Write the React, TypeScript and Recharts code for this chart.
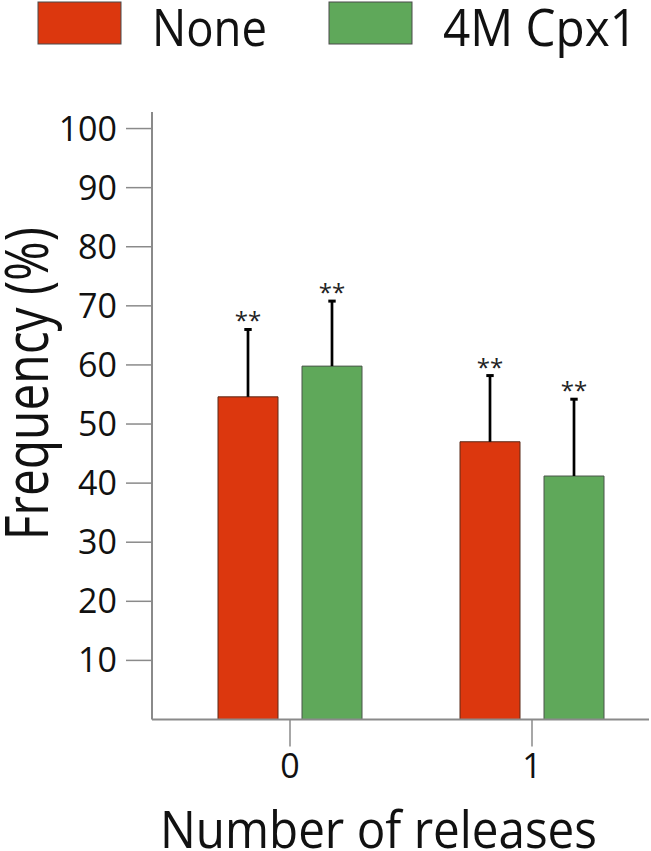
import React from "react";
import {
  BarChart,
  Bar,
  XAxis,
  YAxis,
  ErrorBar,
  Legend,
  LabelList,
} from "recharts";

const releases = ["0", "1"];
const noneFreq = [54.6, 47.0];
const cpxFreq = [59.8, 41.2];
const noneSem = [11.4, 11.2];
const cpxSem = [11.0, 13.0];
const noneSig = ["**", "**"];
const cpxSig = ["**", "**"];
const yTicks = [10, 20, 30, 40, 50, 60, 70, 80, 90, 100];
const seriesNames = ["None", "4M Cpx1"];

const FONT = "'Open Sans', 'Noto Sans', sans-serif";
const AXIS_GREY = "#8a8a8a";

const data = releases.map((r, i) => ({
  release: r,
  none: noneFreq[i],
  cpx: cpxFreq[i],
  noneErr: [0, noneSem[i]],
  cpxErr: [0, cpxSem[i]],
}));

// legend text widths, squeezed to the reference
const legendTextWidths: Record<string, number> = { None: 115, "4M Cpx1": 194 };

function renderLegend(props: any) {
  const items = [...(props.payload ?? [])].sort(
    (a: any, b: any) => seriesNames.indexOf(a.value) - seriesNames.indexOf(b.value)
  );
  return (
    <svg width={651} height={62} style={{ display: "block" }}>
      {items.map((it: any, i: number) => {
        const bx = 38 + i * 291;
        return (
          <g key={it.value}>
            <rect
              x={bx}
              y={2}
              width={83}
              height={42}
              fill={it.color}
              stroke="#4a4a4a"
              strokeWidth={1}
            />
            <text
              x={bx + 114}
              y={46}
              fontSize={52}
              fontFamily={FONT}
              fill="#111"
              textLength={legendTextWidths[it.value]}
              lengthAdjust="spacingAndGlyphs"
            >
              {it.value}
            </text>
          </g>
        );
      })}
    </svg>
  );
}

// top cap of the error bar and the "**" above it
const starLabel = (sem: number[], sig: string[]) => (props: any) => {
  const vb = props.viewBox ?? props;
  const { x, y, width, height } = vb;
  const idx = props.index ?? 0;
  const value = Number(props.value);
  const pxPerUnit = Math.abs(height) / value;
  const top = Math.min(y, y + height) - sem[idx] * pxPerUnit;
  const cx = x + width / 2;
  return (
    <g>
      <line x1={cx - 3.7} x2={cx + 3.7} y1={top} y2={top} stroke="#000" strokeWidth={3} />
      <text
        x={cx}
        y={top}
        textAnchor="middle"
        fontSize={24}
        fontFamily={FONT}
        fill="#222"
      >
        {sig[idx]}
      </text>
    </g>
  );
};

function YTitle(props: any) {
  const vb = props.viewBox;
  const cx = vb.x + 6;
  const cy = vb.y + vb.height / 2 - 32;
  return (
    <text
      transform={`translate(${cx},${cy}) rotate(-90)`}
      textAnchor="middle"
      fontSize={60}
      fontFamily={FONT}
      fill="#111"
      textLength={313}
      lengthAdjust="spacingAndGlyphs"
    >
      Frequency (%)
    </text>
  );
}

function XTitle(props: any) {
  const vb = props.viewBox;
  const cx = vb.x + vb.width / 2 - 22;
  const cy = vb.y + 128;
  return (
    <text
      x={cx}
      y={cy}
      textAnchor="middle"
      fontSize={51}
      fontFamily={FONT}
      fill="#111"
      textLength={437}
      lengthAdjust="spacingAndGlyphs"
    >
      Number of releases
    </text>
  );
}

function AxisTitle(props: any) {
  return props.kind === "x" ? <XTitle {...props} /> : <YTitle {...props} />;
}

export default function App() {
  return (
    <div
      style={{
        position: "absolute",
        left: 0,
        top: 0,
        width: 651,
        height: 851,
        background: "#fff",
        fontFamily: FONT,
      }}
    >
      <BarChart
        width={651}
        height={851}
        data={data}
        margin={{ top: 112, right: 2, left: 42, bottom: 21.5 }}
        barSize={60}
        barGap={24}
      >
        <XAxis
          dataKey="release"
          height={110}
          padding={{ left: 17, right: -4 }}
          axisLine={{ stroke: AXIS_GREY, strokeWidth: 2 }}
          tickLine={{ stroke: AXIS_GREY, strokeWidth: 1.5 }}
          tickSize={27}
          tickMargin={7}
          tick={{ fontSize: 34, fill: "#111", fontFamily: FONT }}
          label={<AxisTitle kind="x" />}
        />
        <YAxis
          width={110}
          domain={[0, 102.8]}
          ticks={yTicks}
          allowDataOverflow
          axisLine={{ stroke: AXIS_GREY, strokeWidth: 2 }}
          tickLine={{ stroke: AXIS_GREY, strokeWidth: 1.5 }}
          tickSize={26}
          tickMargin={9}
          tick={{ fontSize: 34, fill: "#111", fontFamily: FONT }}
          label={<AxisTitle kind="y" />}
        />
        <Legend
          layout="horizontal"
          verticalAlign="middle"
          align="center"
          wrapperStyle={{ top: 0, left: 0, width: 651 }}
          content={renderLegend}
        />
        <Bar
          dataKey="none"
          name="None"
          fill="#DC370E"
          stroke="#5a2a18"
          strokeWidth={1}
          isAnimationActive={false}
        >
          <ErrorBar
            dataKey="noneErr"
            direction="y"
            width={0}
            stroke="#000"
            strokeWidth={2.7}
          />
          <LabelList dataKey="none" content={starLabel(noneSem, noneSig)} />
        </Bar>
        <Bar
          dataKey="cpx"
          name="4M Cpx1"
          fill="#5FA85A"
          stroke="#4a554a"
          strokeWidth={1}
          isAnimationActive={false}
        >
          <ErrorBar
            dataKey="cpxErr"
            direction="y"
            width={0}
            stroke="#000"
            strokeWidth={2.7}
          />
          <LabelList dataKey="cpx" content={starLabel(cpxSem, cpxSig)} />
        </Bar>
      </BarChart>
    </div>
  );
}
